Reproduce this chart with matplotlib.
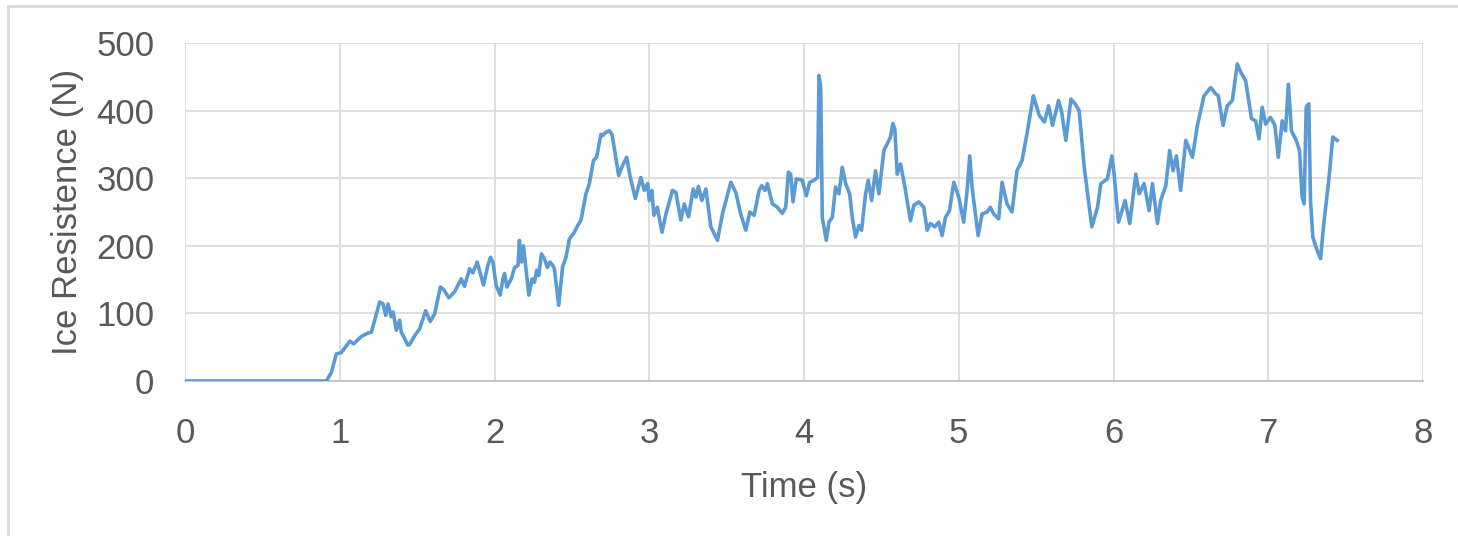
import matplotlib.pyplot as plt
from matplotlib.patches import Rectangle

# ice resistance record, time in seconds, force in newtons
time_s = [0.0, 0.914, 0.946, 0.978, 1.01, 1.065, 1.09, 1.14, 1.183, 1.204, 1.258, 1.28, 1.297,
          1.312, 1.333, 1.345, 1.366, 1.387, 1.398, 1.441, 1.452, 1.484, 1.516, 1.555, 1.585,
          1.613, 1.65, 1.672, 1.705, 1.742, 1.785, 1.806, 1.839, 1.86, 1.888, 1.929, 1.957,
          1.974, 1.99, 2.011, 2.037, 2.054, 2.065, 2.08, 2.108, 2.13, 2.152, 2.161, 2.174,
          2.187, 2.204, 2.222, 2.243, 2.258, 2.273, 2.286, 2.303, 2.322, 2.342, 2.359, 2.376,
          2.387, 2.415, 2.44, 2.462, 2.484, 2.516, 2.538, 2.559, 2.591, 2.613, 2.639, 2.66,
          2.688, 2.699, 2.72, 2.742, 2.759, 2.78, 2.802, 2.828, 2.854, 2.875, 2.91, 2.946,
          2.968, 2.989, 3.0, 3.017, 3.03, 3.052, 3.082, 3.108, 3.15, 3.172, 3.204, 3.226,
          3.254, 3.284, 3.301, 3.318, 3.34, 3.366, 3.398, 3.441, 3.473, 3.527, 3.559, 3.591,
          3.624, 3.65, 3.678, 3.71, 3.727, 3.748, 3.763, 3.796, 3.828, 3.86, 3.882, 3.899,
          3.914, 3.929, 3.95, 3.989, 4.015, 4.037, 4.065, 4.088, 4.097, 4.108, 4.118, 4.144,
          4.161, 4.183, 4.204, 4.226, 4.247, 4.269, 4.295, 4.312, 4.333, 4.355, 4.372, 4.398,
          4.415, 4.437, 4.462, 4.484, 4.516, 4.538, 4.559, 4.574, 4.587, 4.602, 4.624, 4.652,
          4.688, 4.71, 4.742, 4.774, 4.796, 4.817, 4.845, 4.871, 4.892, 4.914, 4.94, 4.968,
          5.0, 5.032, 5.054, 5.071, 5.086, 5.125, 5.151, 5.183, 5.204, 5.226, 5.258, 5.28,
          5.312, 5.344, 5.376, 5.409, 5.441, 5.482, 5.52, 5.553, 5.581, 5.606, 5.645, 5.665,
          5.692, 5.725, 5.752, 5.778, 5.811, 5.86, 5.897, 5.918, 5.961, 5.989, 6.004, 6.032,
          6.075, 6.105, 6.144, 6.166, 6.198, 6.23, 6.252, 6.284, 6.305, 6.338, 6.363, 6.385,
          6.406, 6.434, 6.467, 6.51, 6.542, 6.585, 6.628, 6.66, 6.677, 6.708, 6.735, 6.768,
          6.8, 6.822, 6.854, 6.892, 6.918, 6.94, 6.961, 6.983, 7.015, 7.043, 7.065, 7.09,
          7.112, 7.13, 7.15, 7.181, 7.202, 7.219, 7.232, 7.245, 7.262, 7.273, 7.288, 7.316,
          7.338, 7.359, 7.391, 7.417, 7.445]
force_n = [0, 0, 13, 40, 42, 59, 55, 66, 71, 72, 117, 114, 97,
           114, 95, 102, 75, 90, 72, 53, 54, 67, 77, 104, 88,
           99, 139, 135, 123, 132, 151, 140, 166, 160, 176, 142, 171,
           183, 176, 141, 127, 151, 159, 139, 151, 168, 171, 208, 176,
           200, 164, 127, 151, 146, 164, 156, 188, 181, 168, 176, 171,
           166, 112, 169, 183, 210, 220, 230, 238, 277, 292, 326, 331,
           365, 363, 368, 370, 365, 336, 304, 319, 331, 304, 270, 301,
           282, 292, 267, 282, 245, 257, 220, 247, 282, 279, 238, 262,
           243, 284, 272, 288, 267, 284, 228, 208, 247, 294, 279, 247,
           223, 250, 245, 282, 289, 282, 292, 262, 257, 248, 257, 309,
           306, 265, 299, 297, 274, 294, 297, 301, 452, 434, 242, 208,
           235, 242, 287, 277, 316, 292, 277, 242, 213, 230, 223, 277,
           297, 267, 311, 277, 341, 351, 361, 381, 373, 306, 321, 287,
           237, 260, 265, 257, 223, 233, 228, 235, 215, 242, 252, 294,
           272, 235, 282, 333, 287, 215, 247, 250, 257, 247, 240, 294,
           262, 250, 311, 326, 366, 422, 393, 383, 407, 378, 415, 398,
           356, 417, 410, 400, 316, 228, 257, 292, 299, 333, 306, 235,
           267, 233, 306, 277, 292, 252, 292, 233, 267, 289, 341, 311,
           333, 282, 356, 331, 378, 422, 434, 425, 422, 378, 407, 415,
           469, 457, 444, 388, 385, 358, 405, 380, 390, 378, 331, 385,
           370, 439, 370, 356, 341, 272, 262, 405, 410, 267, 213, 193,
           181, 233, 297, 361, 356]

x_ticks = [0, 1, 2, 3, 4, 5, 6, 7, 8]
y_ticks = [0, 100, 200, 300, 400, 500]

text_color = '#595959'
grid_color = '#D9D9D9'

plt.rcParams['font.family'] = ['Liberation Sans', 'DejaVu Sans']

fig = plt.figure(figsize=(14.58, 5.36), dpi=100)
ax = fig.add_axes([185 / 1458, 1 - 381 / 536, (1423 - 185) / 1458, (381 - 43) / 536])

ax.plot(time_s, force_n, color='#5B9BD5', linewidth=2.6, solid_joinstyle='round', zorder=3)

ax.set_xlim(0, 8)
ax.set_ylim(0, 500)
ax.set_xticks(x_ticks)
ax.set_yticks(y_ticks)
ax.grid(True, color=grid_color, linewidth=1.2)
ax.set_axisbelow(True)
for side in ['top', 'right', 'left']:
    ax.spines[side].set_visible(False)
ax.spines['bottom'].set_color('#BFBFBF')
ax.spines['bottom'].set_linewidth(1.2)
ax.tick_params(length=0, labelsize=25, labelcolor=text_color)
ax.tick_params(axis='x', pad=26)
ax.tick_params(axis='y', pad=22)

ax.set_xlabel('Time (s)', fontsize=25, color=text_color, labelpad=15)
ax.set_ylabel('Ice Resistence (N)', fontsize=25, color=text_color, labelpad=9)

# outer chart border
fig.patches.append(Rectangle((8 / 1458, -0.05), 1.1, 1 - 6 / 536 + 0.05,
                             transform=fig.transFigure, fill=False,
                             edgecolor='#D9D9D9', linewidth=2))

fig.savefig('out.png', dpi=100)
